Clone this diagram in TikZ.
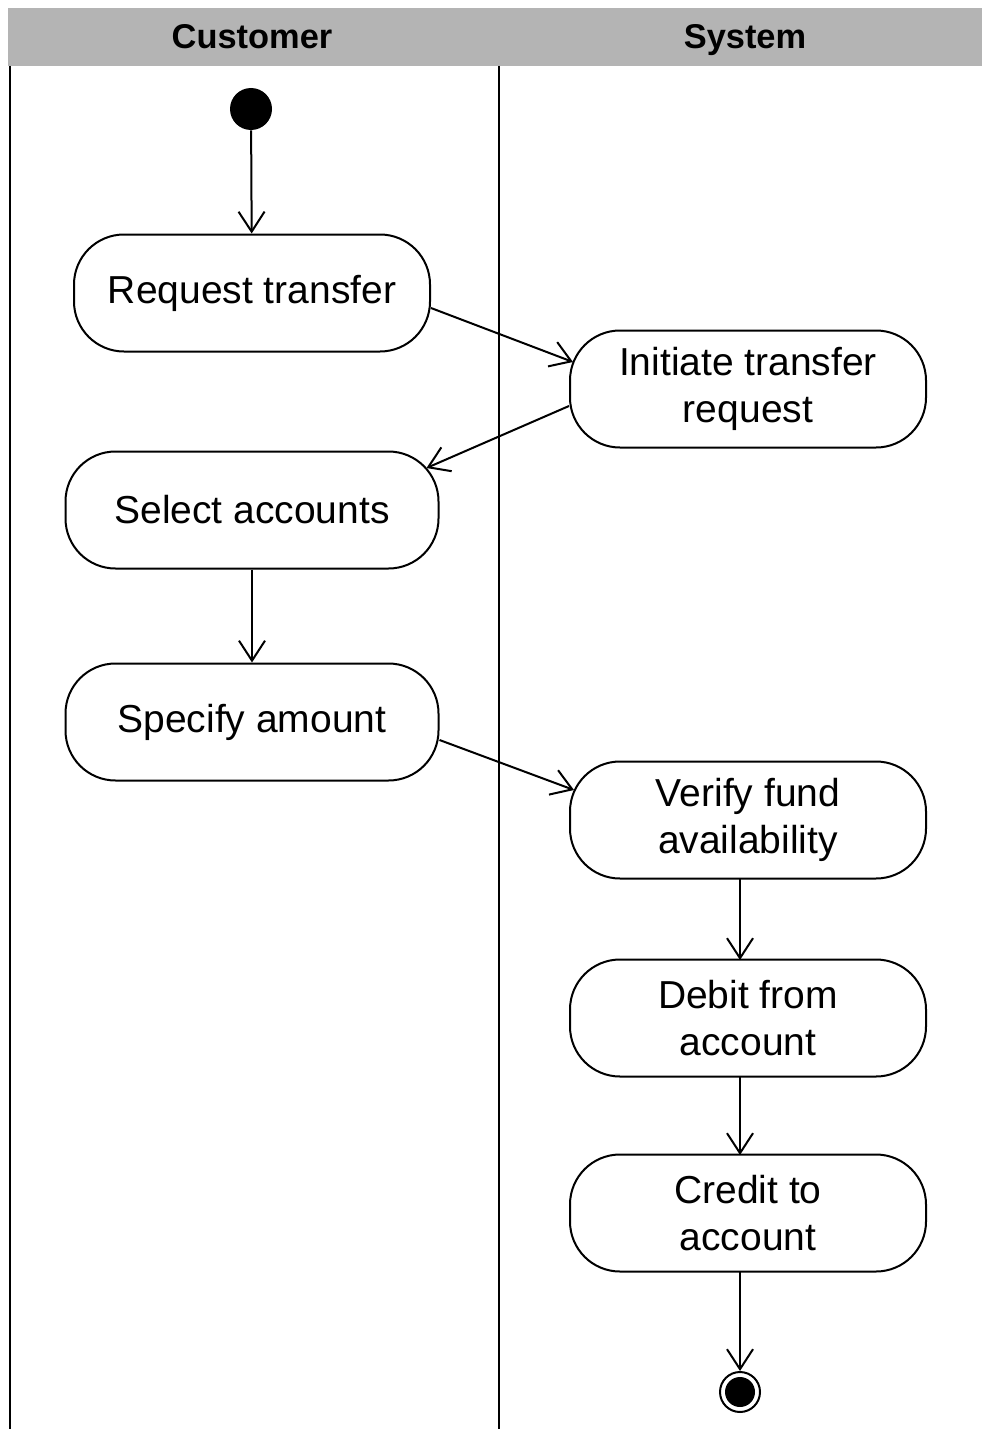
\documentclass[tikz,border=0pt]{standalone}
\usepackage{fontspec}
\setmainfont{Liberation Sans}
\usetikzlibrary{arrows.meta,calc}
\definecolor{headgray}{RGB}{180,180,180}
\begin{document}
\begin{tikzpicture}[x=0.5pt,y=-0.5pt,
  act/.style={draw,line width=1pt,rounded corners=25pt,minimum width=178pt,minimum height=58.5pt,inner sep=0pt,align=center,font=\fontsize{19.5}{23.5}\selectfont},
  wideact/.style={act,minimum width=186.5pt},
  flow/.style={line width=1pt,-{Straight Barb[length=10pt,width=13pt]}},
  lane/.style={line width=1pt},
  hdr/.style={font=\fontsize{17.2}{20}\selectfont\bfseries}]
\useasboundingbox (0,0) rectangle (982,1429);
% header
\fill[headgray] (8,8) rectangle (982,66);
\node[hdr] (hc) at (252,37) {Customer};
\node[hdr] (hs) at (745,40) {System};
% lanes
\draw[lane] (10,66) -- (10,1429);
\draw[lane] (499,66) -- (499,1429);
% nodes
\node[circle,fill=black,minimum size=21pt,inner sep=0pt] (start) at (251,109) {};
\node[act] (req) at (252,293) {Request transfer};
\node[act] (init) at (748,389) {Initiate transfer\\request};
\node[wideact] (sel) at (252,510) {Select accounts};
\node[wideact] (spec) at (252,722) {Specify amount};
\node[act] (ver) at (748,820) {Verify fund\\availability};
\node[act] (deb) at (748,1018) {Debit from\\account};
\node[act] (cred) at (748,1213) {Credit to\\account};
\node[circle,draw,line width=1pt,minimum size=20pt,inner sep=0pt] (end) at (740,1392) {};
\fill (end.center) circle (7.5pt);
% connector end points
\coordinate (a1) at ($(req.east)+(0,15)$);
\coordinate (b1) at ($(init.west)+(4,-27)$);
\coordinate (a2) at ($(init.west)+(0,17)$);
\coordinate (b2) at ($(sel.east)+(-13,-42)$);
\coordinate (a3) at ($(spec.east)+(0,18)$);
\coordinate (b3) at ($(ver.west)+(5,-30)$);
\coordinate (vb) at (740,878);
\coordinate (dt) at (740,960);
\coordinate (db) at (740,1077);
\coordinate (ct) at (740,1155);
\coordinate (cb) at (740,1272);
% connectors
\draw[flow] (start) -- (req);
\draw[flow] (a1) -- (b1);
\draw[flow] (a2) -- (b2);
\draw[flow] (sel) -- (spec);
\draw[flow] (a3) -- (b3);
\draw[flow] (vb) -- (dt);
\draw[flow] (db) -- (ct);
\draw[flow] (cb) -- (end);
\end{tikzpicture}
\end{document}
